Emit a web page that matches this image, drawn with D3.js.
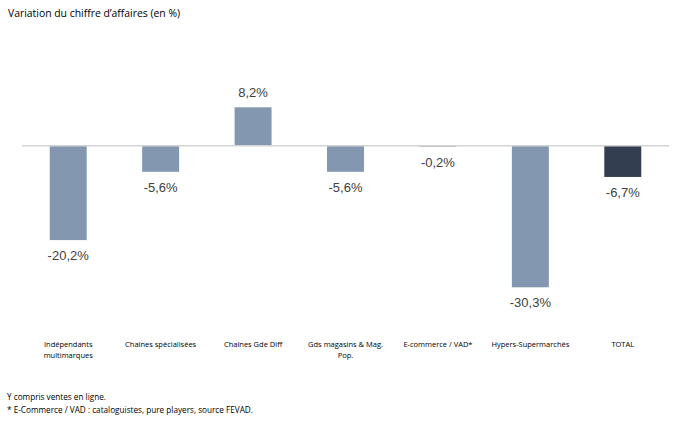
<!DOCTYPE html>
<html>
<head>
<meta charset="utf-8">
<script src="https://cdn.jsdelivr.net/npm/d3@7"></script>
<style>
  body { margin: 0; background: #fff; }
</style>
</head>
<body>
<div id="chart"></div>
<script>
// DATA
var categories = ['Indépendants|multimarques', 'Chaînes spécialisées', 'Chaînes Gde Diff', 'Gds magasins & Mag.|Pop.', 'E-commerce / VAD*', 'Hypers-Supermarchés', 'TOTAL'];
var values = [-20.2, -5.6, 8.2, -5.6, -0.2, -30.3, -6.7];
var valueLabels = ['-20,2%', '-5,6%', '8,2%', '-5,6%', '-0,2%', '-30,3%', '-6,7%'];
var footnotes = ['Y compris ventes en ligne.', '* E-Commerce / VAD : cataloguistes, pure players, source FEVAD.'];

// SETTINGS
var settings = {
   width: 674,
   height: 421,
   bar: '#8497b0',
   total: '#333f50',
   axis: '#d4d4d4',
   text: '#404040'
}

// GENERATE CANVAS
var canvas = d3.select('#chart').append('svg')
   .attr('width', settings.width)
   .attr('height', settings.height)

// TITLE
canvas.append('text')
   .attr('x', 8)
   .attr('y', 17)
   .attr('font-family', 'Open Sans, sans-serif')
   .attr('font-size', 10.4)
   .attr('fill', '#000')
   .text('Variation du chiffre d\u2019affaires (en %)')

// X-SCALING
var xScale = d3.scaleBand()
   .domain(d3.range(categories.length))
   .range([22, 669])
   .paddingInner(0.6)
   .paddingOuter(0.3)

// Y-SCALING
var yScale = d3.scaleLinear()
   .domain([-30.3, 8.2])
   .range([287.3, 107.3])

// BARS
canvas.selectAll('rect.bar')
   .data(values)
      .enter().append('rect')
         .attr('class', 'bar')
         .attr('x', (d, i) => { return xScale(i) })
         .attr('width', xScale.bandwidth())
         .attr('y', (d) => { return Math.min(yScale(d), yScale(0)) })
         .attr('height', (d) => { return Math.max(Math.abs(yScale(d) - yScale(0)), 1) })
         .attr('fill', (d, i) => { return i === values.length - 1 ? settings.total : settings.bar })

// ZERO LINE
canvas.append('line')
   .attr('x1', 22)
   .attr('x2', 669)
   .attr('y1', yScale(0))
   .attr('y2', yScale(0))
   .attr('stroke', settings.axis)
   .attr('stroke-width', 1.5)

// VALUE LABELS
canvas.selectAll('text.value')
   .data(values)
      .enter().append('text')
         .attr('class', 'value')
         .attr('x', (d, i) => { return xScale(i) + xScale.bandwidth() / 2 })
         .attr('y', (d) => { return d >= 0 ? yScale(d) - 10 : Math.max(yScale(d), yScale(0) + 1) + 20 })
         .attr('text-anchor', 'middle')
         .attr('font-family', 'Liberation Sans, Arial, sans-serif')
         .attr('font-size', 13)
         .attr('fill', settings.text)
         .text((d, i) => { return valueLabels[i] })

// CATEGORY LABELS
var cats = canvas.selectAll('text.cat')
   .data(categories)
      .enter().append('text')
         .attr('class', 'cat')
         .attr('x', (d, i) => { return xScale(i) + xScale.bandwidth() / 2 })
         .attr('y', 347)
         .attr('text-anchor', 'middle')
         .attr('font-family', 'Open Sans, sans-serif')
         .attr('font-size', 7.5)
         .attr('fill', '#000')

cats.selectAll('tspan')
   .data((d) => { return d.split('|') })
      .enter().append('tspan')
         .attr('x', function () { return d3.select(this.parentNode).attr('x') })
         .attr('dy', (d, i) => { return i === 0 ? 0 : 11 })
         .text((d) => { return d })

// FOOTNOTES
canvas.selectAll('text.note')
   .data(footnotes)
      .enter().append('text')
         .attr('class', 'note')
         .attr('x', 7)
         .attr('y', (d, i) => { return 400 + i * 12.5 })
         .attr('font-family', 'Open Sans, sans-serif')
         .attr('font-size', 8.2)
         .attr('fill', '#000')
         .text((d) => { return d })
</script>
</body>
</html>
